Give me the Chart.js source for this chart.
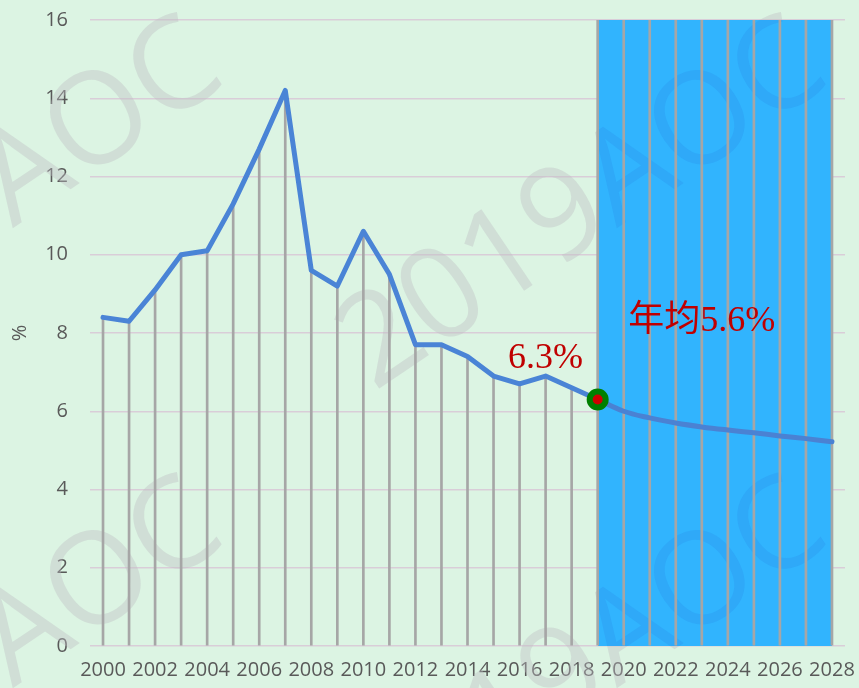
<!DOCTYPE html>
<html>
<head>
<meta charset="utf-8">
<title>GDP growth</title>
<style>
  body { margin: 0; background: #DCF4E3; }
  #wrap { width: 859px; height: 688px; }
</style>
</head>
<body>
<div id="wrap"><canvas id="growthChart" width="859" height="688"></canvas></div>
<script src="https://cdn.jsdelivr.net/npm/chart.js@4/dist/chart.umd.min.js"></script>
<script>
// data
var years = ['2000','2001','2002','2003','2004','2005','2006','2007','2008','2009',
             '2010','2011','2012','2013','2014','2015','2016','2017','2018','2019',
             '2020','2021','2022','2023','2024','2025','2026','2027','2028'];
// actual growth 2000-2019
var growthActual = [8.4, 8.3, 9.1, 10.0, 10.1, 11.3, 12.7, 14.2, 9.6, 9.2,
                    10.6, 9.5, 7.7, 7.7, 7.4, 6.9, 6.7, 6.9, 6.6, 6.3];
// forecast 2019-2028
var growthForecast = [6.3, 6.0, 5.83, 5.7, 5.6, 5.52, 5.45, 5.37, 5.3, 5.22];
var forecastStart = 19;        // index of 2019
var bandTop = 16;              // shaded forecast band height
var yTicks = { min: 0, max: 16, step: 2 };
var labelActual = '6.3%';
var labelForecast = '年均5.6%';
var watermark = '2019AOC';

// build dataset arrays
var actualData = years.map(function (y, i) { return i < growthActual.length ? growthActual[i] : null; });
var forecastData = years.map(function (y, i) { return i >= forecastStart ? growthForecast[i - forecastStart] : null; });
var bandData = years.map(function (y, i) { return i >= forecastStart ? bandTop : null; });
var dropData = years.map(function (y, i) { return bandData[i] !== null ? bandData[i] : actualData[i]; });
var markerData = years.map(function (y, i) { return i === forecastStart ? growthActual[forecastStart] : null; });

function drawMarks(ctx) {
    var offs = [[0, 0], [-604, 0], [0, 460], [-604, 460], [604, -460]];
    offs.forEach(function (o) {
        ctx.save();
        ctx.translate(374 + o[0], 392 + o[1]);
        ctx.rotate(-34 * Math.PI / 180);
        ctx.fillText(watermark, 0, 0);
        ctx.restore();
    });
}

var watermarkPlugin = {
    id: 'watermark',
    afterDatasetDraw: function (chart, args) {
        if (args.index !== 0) return;
        var ctx = chart.ctx;
        var xs = chart.scales.x, area = chart.chartArea;
        var bx0 = xs.getPixelForValue(forecastStart);
        var bx1 = xs.getPixelForValue(years.length - 1);
        ctx.save();
        ctx.font = '400 128px "Open Sans"';
        ctx.textBaseline = 'alphabetic';
        // outside the band: grey
        ctx.save();
        ctx.beginPath();
        ctx.rect(0, 0, chart.width, chart.height);
        ctx.rect(bx1, area.top, bx0 - bx1, area.bottom - area.top);
        ctx.clip('evenodd');
        ctx.fillStyle = 'rgba(190,190,195,0.4)';
        drawMarks(ctx);
        ctx.restore();
        // inside the band: darker blue
        ctx.save();
        ctx.beginPath();
        ctx.rect(bx0, area.top, bx1 - bx0, area.bottom - area.top);
        ctx.clip();
        ctx.fillStyle = 'rgba(40,110,220,0.16)';
        drawMarks(ctx);
        ctx.restore();
        ctx.restore();
    }
};

var labelPlugin = {
    id: 'labels',
    afterDatasetsDraw: function (chart) {
        var ctx = chart.ctx;
        var xs = chart.scales.x, ys = chart.scales.y;
        ctx.save();
        ctx.fillStyle = '#C00000';
        ctx.textAlign = 'center';
        ctx.textBaseline = 'middle';
        ctx.font = '36px "Liberation Serif", "Noto Sans CJK SC"';
        ctx.fillText(labelActual, xs.getPixelForValue(17), ys.getPixelForValue(7.35));
        ctx.fillText(labelForecast, xs.getPixelForValue(23), ys.getPixelForValue(8.3));
        ctx.restore();
    }
};

var tickFont = { family: '"Open Sans"', size: 20 };

new Chart(document.getElementById('growthChart').getContext('2d'), {
    type: 'bar',
    data: {
        labels: years,
        datasets: [{
            type: 'line',
            label: 'band',
            data: bandData,
            fill: 'origin',
            backgroundColor: '#31B4FE',
            borderWidth: 0,
            pointRadius: 0,
            order: 5
        }, {
            type: 'bar',
            label: 'drop',
            data: dropData,
            backgroundColor: '#A6A6A6',
            barThickness: 2,
            order: 4
        }, {
            type: 'line',
            label: 'forecast',
            data: forecastData,
            borderColor: '#4A82D3',
            borderWidth: 5,
            tension: 0.4,
            borderCapStyle: 'round',
            pointRadius: 0,
            fill: false,
            order: 3
        }, {
            type: 'line',
            label: 'actual',
            data: actualData,
            borderColor: '#4A84D6',
            borderWidth: 5,
            borderCapStyle: 'round',
            borderJoinStyle: 'round',
            pointRadius: 0,
            fill: false,
            order: 2
        }, {
            type: 'line',
            label: 'marker',
            data: markerData,
            showLine: false,
            pointRadius: 8,
            pointBorderWidth: 6,
            pointBorderColor: '#008000',
            pointBackgroundColor: '#D00000',
            order: 1
        }]
    },
    options: {
        responsive: false,
        animation: false,
        layout: { padding: { top: 20, right: 14, left: 0, bottom: 0 } },
        plugins: { legend: { display: false }, tooltip: { enabled: false } },
        scales: {
            x: {
                offset: true,
                grid: { display: true, drawOnChartArea: false, drawTicks: true, tickLength: 12, tickColor: 'rgba(0,0,0,0)', color: 'rgba(0,0,0,0)' },
                border: { display: false },
                ticks: {
                    color: '#595959',
                    font: tickFont,
                    autoSkip: false,
                    maxRotation: 0,
                    padding: 0,
                    callback: function (v, i) { return i % 2 === 0 ? years[i] : ''; }
                },
                afterFit: function (s) { s.height = 42; }
            },
            y: {
                min: yTicks.min,
                max: yTicks.max,
                ticks: { stepSize: yTicks.step, color: '#595959', font: tickFont, padding: 0 },
                grid: { color: '#D9CDD8', lineWidth: 1.5, drawTicks: true, tickLength: 22, tickColor: 'rgba(0,0,0,0)' },
                border: { display: false },
                title: { display: true, text: '%', color: '#595959', font: tickFont, padding: { top: 8, bottom: 0 } },
                afterFit: function (s) { s.width = 90; }
            }
        }
    },
    plugins: [watermarkPlugin, labelPlugin]
});
</script>
</body>
</html>
